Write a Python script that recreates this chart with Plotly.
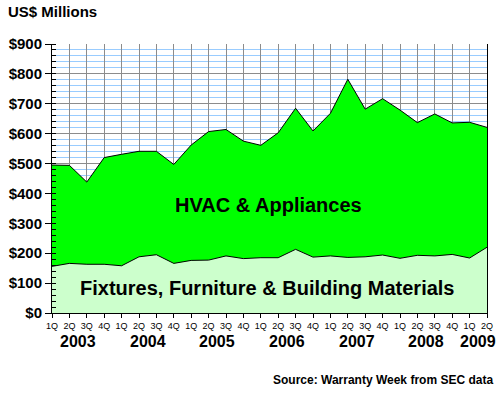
import plotly.graph_objects as go

quarters = ["1Q", "2Q", "3Q", "4Q"] * 6 + ["1Q", "2Q"]
years = ["2003", "2004", "2005", "2006", "2007", "2008", "2009"]
fixtures = [156, 166, 163, 163, 158, 188, 195, 166, 176, 177, 191, 182, 185, 185,
            213, 187, 191, 186, 188, 194, 183, 193, 191, 196, 184, 220]
total = [495, 494, 438, 520, 531, 541, 541, 497, 562, 607, 614, 575, 561, 603,
         685, 609, 668, 782, 682, 717, 679, 637, 666, 636, 638, 621]
hvac = [t - f for t, f in zip(total, fixtures)]

x = list(range(len(quarters)))
FONT = "Arial, Liberation Sans, sans-serif"

fig = go.Figure()
fig.add_trace(go.Scatter(x=x, y=fixtures, stackgroup="s", mode="lines",
                         line=dict(color="black", width=1),
                         fillcolor="#CCFFCC", name="Fixtures"))
fig.add_trace(go.Scatter(x=x, y=hvac, stackgroup="s", mode="lines",
                         line=dict(color="black", width=1),
                         fillcolor="#00FF00", name="HVAC"))

fig.update_layout(
    width=500, height=399,
    margin=dict(l=52, r=13, t=44, b=86),
    paper_bgcolor="white", plot_bgcolor="white",
    showlegend=False,
    font=dict(family=FONT, color="black"),
)
fig.update_xaxes(
    automargin=False,
    range=[0, len(quarters) - 1],
    tickmode="array", tickvals=x, ticktext=quarters,
    tickfont=dict(size=9, family=FONT), ticks="outside", ticklen=4, tickcolor="black",
    showgrid=True, gridcolor="#8C8C8C", gridwidth=1,
    showline=True, linecolor="black", linewidth=1,
    zeroline=False,
)
fig.update_yaxes(
    automargin=False,
    range=[0, 900], dtick=100, tickprefix="$",
    tickfont=dict(size=15, family=FONT, weight="bold"),
    ticks="outside", ticklen=6, tickcolor="black",
    showgrid=True, gridcolor="#8C8C8C", gridwidth=1,
    minor=dict(dtick=20, showgrid=True, gridcolor="#99CCFF", gridwidth=1,
               ticks="inside", ticklen=4, tickcolor="black"),
    showline=True, linecolor="black", linewidth=1, mirror=True,
    zeroline=False,
)

# year labels centred under each year's quarters
year_centers = [1.5 + 4 * i for i in range(6)] + [24.5]
for yc, yr in zip(year_centers, years):
    fig.add_annotation(x=yc, y=0, xref="x", yref="y domain", yanchor="middle",
                       yshift=-28, text="<b>%s</b>" % yr, showarrow=False,
                       font=dict(size=16, family=FONT, color="black"))

fig.add_annotation(x=12.45, y=360, xref="x", yref="y", text="<b>HVAC &amp; Appliances</b>",
                   showarrow=False, font=dict(size=20, family=FONT, color="black"))
fig.add_annotation(x=12.4, y=83, xref="x", yref="y",
                   text="<b>Fixtures, Furniture &amp; Building Materials</b>",
                   showarrow=False, font=dict(size=20, family=FONT, color="black"))
fig.add_annotation(x=0, y=1, xref="x domain", yref="y domain", xanchor="left",
                   yanchor="middle", xshift=-46, yshift=33,
                   text="<b>US$ Millions</b>", showarrow=False,
                   font=dict(size=15, family=FONT, color="black"))
fig.add_annotation(x=1, y=0, xref="x domain", yref="y domain", xanchor="right",
                   yanchor="middle", xshift=8, yshift=-67,
                   text="<b>Source: Warranty Week from SEC data</b>", showarrow=False,
                   font=dict(size=12, family=FONT, color="black"))

fig.write_html("out.html", config={"displayModeBar": False},
               post_script="document.body.style.margin='0';document.body.style.overflow='hidden';")
